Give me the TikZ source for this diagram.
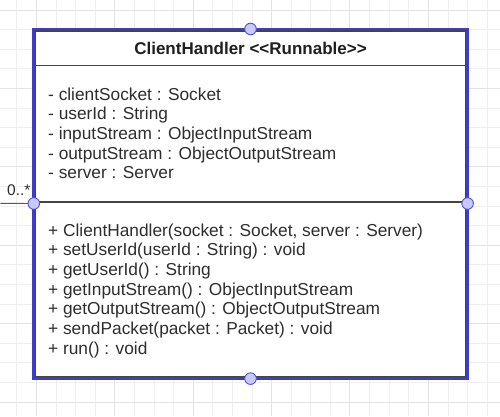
\documentclass[tikz,border=0pt]{standalone}
\usepackage{fontspec}
\setmainfont{Liberation Sans}[Ligatures=TeXOff]
\definecolor{gridminor}{HTML}{EFEFEF}
\definecolor{gridmajor}{HTML}{E3E3E3}
\definecolor{boxline}{HTML}{444444}
\definecolor{txt}{HTML}{2E2E2E}
\definecolor{selblue}{HTML}{3D3DC8}
\definecolor{handlefill}{HTML}{C8C8FA}
\definecolor{handleline}{HTML}{5050D8}
\tikzset{
  member/.style={anchor=base west, inner sep=0pt, text=txt, font=\fontsize{17.3}{20}\selectfont},
  header/.style={anchor=base, inner sep=0pt, text=black!88, font=\bfseries\fontsize{17}{20}\selectfont},
  handle/.style={circle, draw=handleline, fill=handlefill, line width=0.9pt, minimum size=11.6pt, inner sep=0pt},
  umlbox/.style={draw=boxline, fill=white, line width=1.8pt, rectangle, inner sep=0pt},
  selection/.style={draw=selblue, line width=2.4pt},
  divider/.style={draw=boxline, line width=1.8pt},
  conn/.style={draw=black!65, line width=0.9pt},
  mult/.style={anchor=base west, inner sep=0pt, text=txt, font=\fontsize{15.5}{17}\selectfont}
}
\begin{document}
\begin{tikzpicture}[x=1pt,y=-1pt]
\useasboundingbox (0,0) rectangle (500,416);
\fill[white] (0,0) rectangle (500,416);
% grid
\foreach \k in {0,...,24} {
  \pgfmathsetmacro{\gx}{16.7+19.6*\k}
  \pgfmathtruncatemacro{\m}{mod(\k,4)}
  \ifnum\m=1 \draw[gridmajor, line width=0.9pt] (\gx,0) -- (\gx,416);
  \else \draw[gridminor, line width=0.8pt] (\gx,0) -- (\gx,416); \fi
}
\foreach \k in {0,...,20} {
  \pgfmathsetmacro{\gy}{10+19.6*\k}
  \pgfmathtruncatemacro{\m}{mod(\k,4)}
  \ifnum\m=0 \draw[gridmajor, line width=0.9pt] (0,\gy) -- (500,\gy);
  \else \draw[gridminor, line width=0.8pt] (0,\gy) -- (500,\gy); \fi
}
% connector
\coordinate (cfree) at (0.5,203.3);
\coordinate (hlc) at (33.8,203.5);
\draw[conn] (cfree) -- (hlc);
\node[mult] (mlabel) at (7,195) {0..*};
% class box
\node[umlbox, minimum width=430pt, minimum height=345.5pt] (box) at (250.5,203.75) {};
\coordinate (d1l) at (35.5,65.5); \coordinate (d1r) at (465.5,65.5);
\coordinate (d2l) at (35.5,202.2); \coordinate (d2r) at (465.5,202.2);
\draw[divider] (d1l) -- (d1r);
\draw[divider] (d2l) -- (d2r);
\node[header] (title) at (250.5,54) {ClientHandler <<Runnable>>};
% attributes
\node[member] (a1) at (48,100) {- clientSocket : Socket};
\node[member] (a2) at (48,119.7) {- userId : String};
\node[member] (a3) at (48,139.4) {- inputStream : ObjectInputStream};
\node[member] (a4) at (48,159.1) {- outputStream : ObjectOutputStream};
\node[member] (a5) at (48,178.8) {- server : Server};
% methods
\node[member] (m1) at (48,236) {+ ClientHandler(socket : Socket, server : Server)};
\node[member] (m2) at (48,255.7) {+ setUserId(userId : String) : void};
\node[member] (m3) at (48,275.4) {+ getUserId() : String};
\node[member] (m4) at (48,295.1) {+ getInputStream() : ObjectInputStream};
\node[member] (m5) at (48,314.8) {+ getOutputStream() : ObjectOutputStream};
\node[member] (m6) at (48,334.5) {+ sendPacket(packet : Packet) : void};
\node[member] (m7) at (48,354.2) {+ run() : void};
% selection outline
\coordinate (s1) at (33.5,29); \coordinate (s2) at (467.6,378.6);
\draw[selection] (s1) rectangle (s2);
% handles
\node[handle] (ht) at (250.5,29) {};
\node[handle] (hb) at (250.5,378.6) {};
\node[handle] (hl) at (hlc) {};
\node[handle] (hr) at (467.6,203.5) {};
\end{tikzpicture}
\end{document}
